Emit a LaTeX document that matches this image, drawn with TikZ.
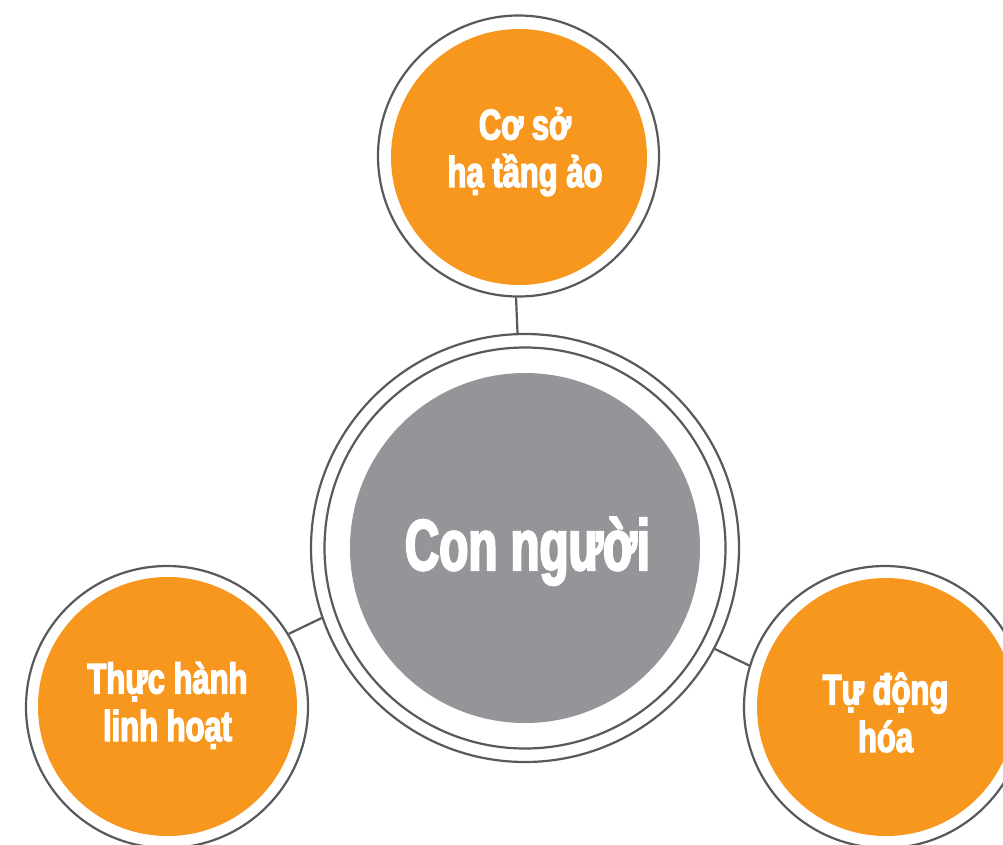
\documentclass[tikz,border=0pt]{standalone}
\usepackage{fontspec}
\newfontfamily\condfont{Liberation Sans}[FakeStretch=0.66,BoldFeatures={FakeBold=3}]
\newfontfamily\smallcondfont{Liberation Sans}[FakeStretch=0.72,BoldFeatures={FakeBold=3}]
\definecolor{ringc}{HTML}{58595B}
\definecolor{orangec}{HTML}{F7971E}
\definecolor{grayc}{HTML}{939598}
\begin{document}
\begin{tikzpicture}[x=1pt,y=-1pt,
  ring/.style={circle, draw=ringc, line width=2.2pt, inner sep=0pt, minimum size=#1},
  disc/.style={circle, fill=#1, inner sep=0pt},
  conn/.style={draw=ringc, line width=2.2pt},
  biglbl/.style={text=white, anchor=base, font=\condfont\bfseries\fontsize{72}{80}\selectfont},
  lbl/.style={text=white, align=center, anchor=base, font=\smallcondfont\bfseries\fontsize{43}{47.5}\selectfont}]
\useasboundingbox (0,0) rectangle (1003,844);
\fill[white] (0,0) rectangle (1003,844);
% central
\node[ring=428pt] (cO) at (525,548) {};
\node[ring=401pt] (cI) at (525,548) {};
\node[disc=grayc, minimum size=350pt] (cF) at (525,548) {};
% top
\node[ring=281pt] (tO) at (518.5,156) {};
\node[disc=orangec, minimum size=256pt] (tF) at (519,157) {};
% left
\node[ring=282pt] (lO) at (167,707) {};
\node[disc=orangec, minimum size=259pt] (lF) at (167.5,706.5) {};
% right
\node[ring=282pt] (rO) at (885,707) {};
\node[disc=orangec, minimum size=258pt] (rF) at (886,707) {};
% connectors
\draw[conn] (tO.269) -- (cO.92.4);
\draw[conn] (lO.31.6) -- (cO.199.8);
\draw[conn] (cO.-28) -- (rO.163.6);
% labels
\node[biglbl] (cT) at (527.5,570) {Con người};
\node[lbl] (tT) at (525,187) {Cơ sở\\hạ tầng ảo};
\node[lbl] (lT) at (167.5,741) {Thực hành\\linh hoạt};
\node[lbl] (rT) at (885.5,752) {Tự động\\hóa};
\end{tikzpicture}
\end{document}
